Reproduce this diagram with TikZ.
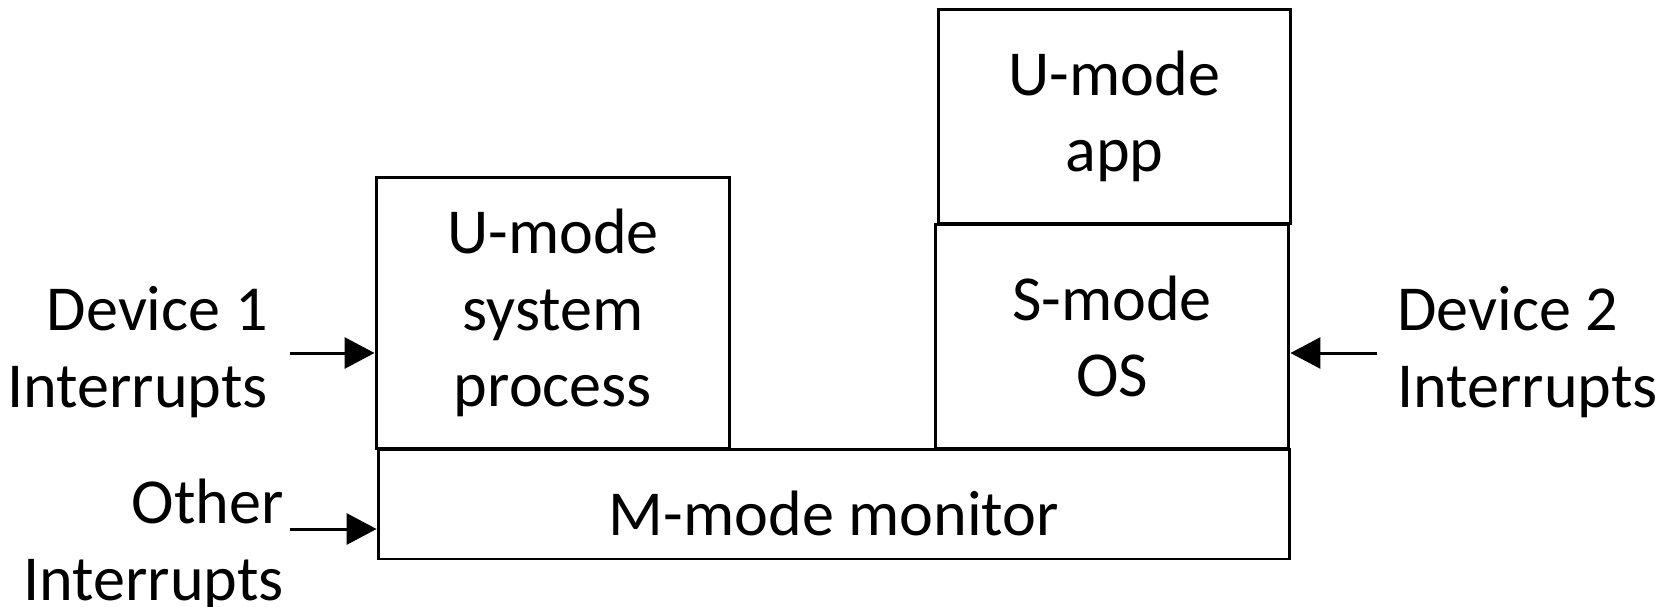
\documentclass[tikz,border=0pt]{standalone}
\usepackage{fontspec}
\setmainfont{Carlito}
\usetikzlibrary{arrows.meta}
\begin{document}
\begin{tikzpicture}
  [
    x=0.02cm, y=-0.02cm,
    every node/.style={font=\fontsize{36.5}{43.7}\selectfont},
    blk/.style={draw=black, line width=1.7pt, inner sep=0pt, align=center,
      execute at begin node={\rule{0pt}{0.98em}}},
    lbl/.style={inner sep=0pt},
    ld/.style={draw=black, line width=1.7pt,
      -{Triangle[length=0.6cm,width=0.62cm]}}
  ]
  \useasboundingbox (0,0) rectangle (1671,606);
  \node (sys) at (553,313) [blk, minimum width=7.08cm, minimum height=5.44cm]
    {U-mode\\system\\process};
  \node (app) at (1114.5,116.5) [blk, minimum width=7.06cm, minimum height=4.3cm]
    {U-mode\\app};
  \node (os) at (1112,336.5) [blk, minimum width=7.08cm, minimum height=4.5cm]
    {S-mode\\OS};
  \node (mon) at (834,504) [blk, minimum width=18.24cm, minimum height=2.2cm]
    {M-mode monitor};

  \node (d1) at (268,352) [lbl, anchor=east, align=right] {Device 1\\Interrupts};
  \node (oth) at (284,545) [lbl, anchor=east, align=right] {Other\\Interrupts};
  \node (d2) at (1397,352) [lbl, anchor=west, align=left] {Device 2\\Interrupts};

  \coordinate (d1s) at (290,353);
  \coordinate (oths) at (290,529);
  \coordinate (d2s) at (1377,353);

  \draw [ld] (d1s) -- (sys.west |- d1s);
  \draw [ld] (oths) -- (mon.west |- oths);
  \draw [ld] (d2s) -- (os.east |- d2s);
\end{tikzpicture}
\end{document}
